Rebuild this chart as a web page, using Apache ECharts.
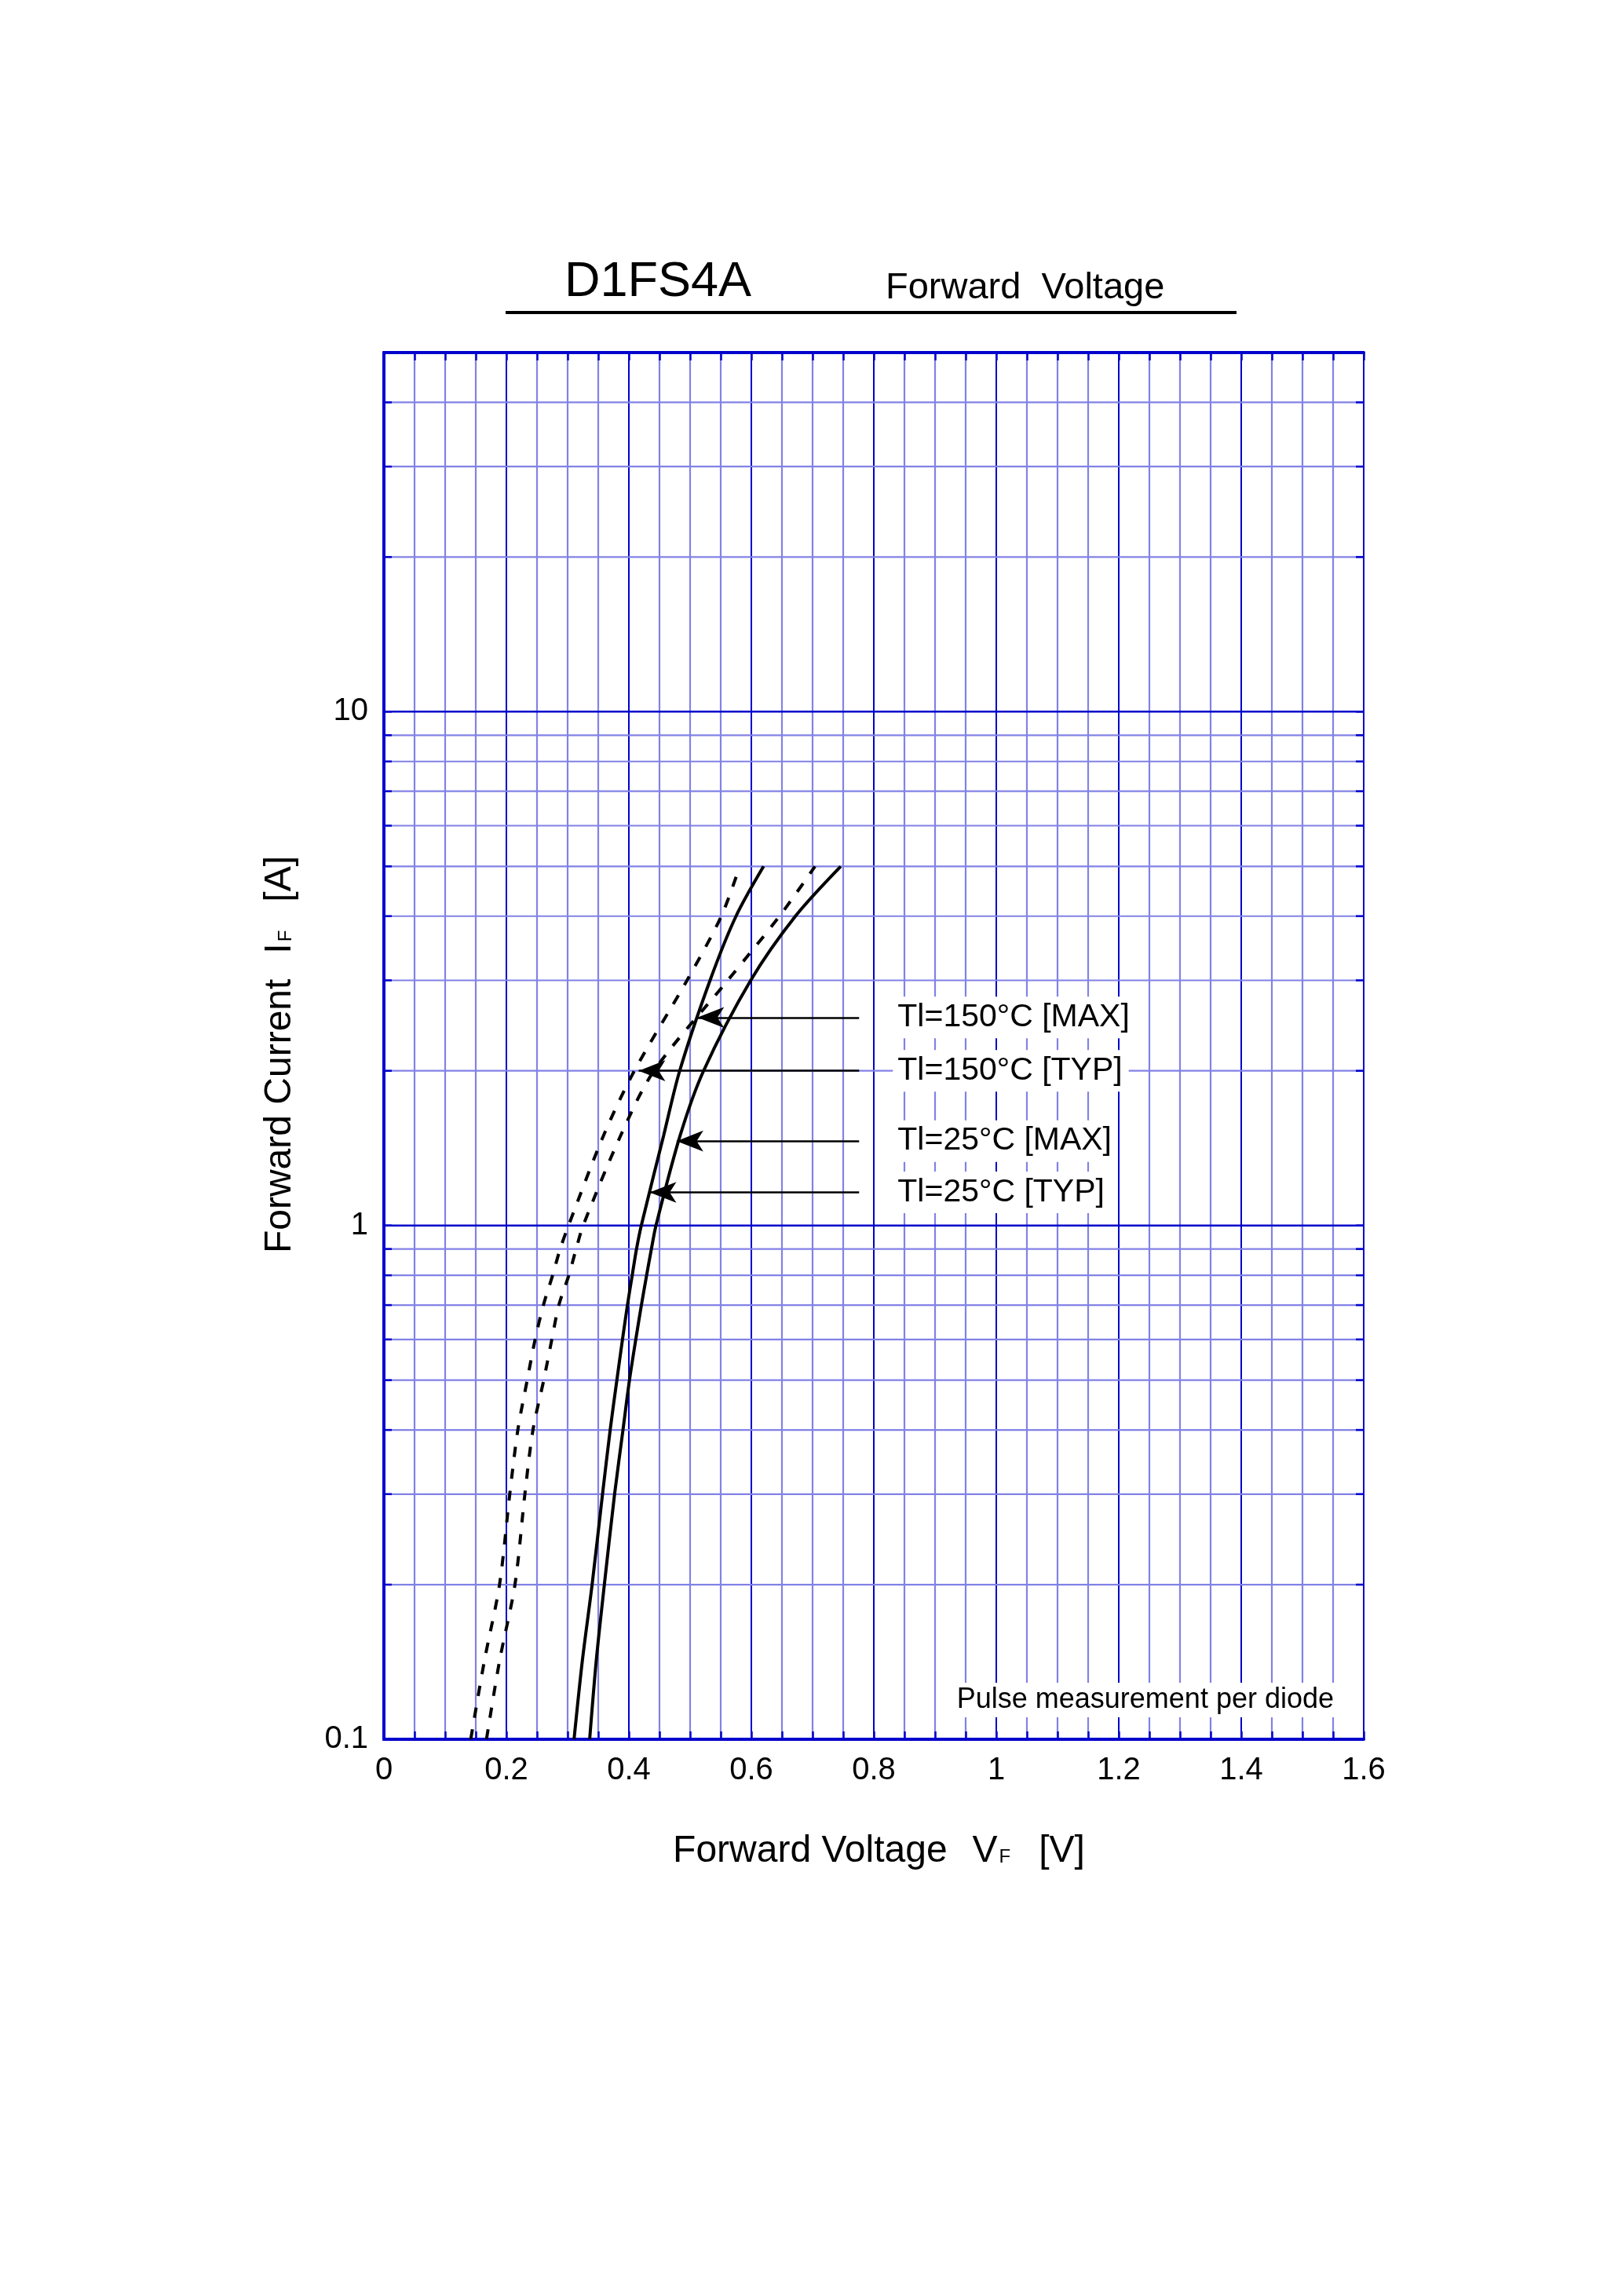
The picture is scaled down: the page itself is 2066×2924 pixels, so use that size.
<!DOCTYPE html>
<html>
<head>
<meta charset="utf-8">
<script src="https://cdn.jsdelivr.net/npm/echarts@6/dist/echarts.min.js"></script>
<style>
  html, body { margin: 0; padding: 0; background: #fff; }
  #chart { width: 2066px; height: 2924px; }
</style>
</head>
<body>
<div id="chart"></div>
<script>
// forward current levels (A) where the curves were read
const currents = [0.1, 0.142, 0.2, 0.3, 0.4, 0.5, 0.6, 0.7, 0.8, 0.9, 1, 1.5, 2, 3, 4, 5]

// forward voltage (V) for each curve at those currents
const vf25Typ = [0.3105, 0.324, 0.340, 0.357, 0.3695, 0.3804, 0.3896, 0.3977, 0.4055, 0.4125, 0.4203, 0.457, 0.483, 0.5326, 0.575, 0.620]
const vf25Max = [0.336, 0.3467, 0.360, 0.3767, 0.3904, 0.401, 0.4113, 0.4205, 0.429, 0.4368, 0.4443, 0.484, 0.522, 0.599, 0.672, 0.746]
const vf150Typ = [0.1418, 0.164, 0.1888, 0.2055, 0.2187, 0.234, 0.2469, 0.2605, 0.2755, 0.2878, 0.3015, 0.359, 0.409, 0.495, 0.551, 0.581]
const vf150Max = [0.1675, 0.1888, 0.214, 0.2302, 0.2434, 0.261, 0.2742, 0.2857, 0.302, 0.3139, 0.3254, 0.387, 0.441, 0.5615, 0.646, 0.704]

// annotation arrows: label, current level, arrow tip and tail voltage
const arrowLabels = ['Tl=150°C [MAX]', 'Tl=150°C [TYP]', 'Tl=25°C [MAX]', 'Tl=25°C [TYP]']
const arrowCurrent = [2.54, 2.0, 1.46, 1.16]
const arrowTipV = [0.512, 0.416, 0.478, 0.434]
const arrowTailV = [0.776, 0.776, 0.776, 0.776]

// axis ranges and grid lines
const xMin = 0
const xMax = 1.6
const xStep = 0.2
const yMin = 0.1
const yMax = 50
const yLabelValues = [0.1, 1, 10]
const yMinorLines = [0.2, 0.3, 0.4, 0.5, 0.6, 0.7, 0.8, 0.9, 2, 3, 4, 5, 6, 7, 8, 9, 20, 30, 40]
const yMajorLines = [1, 10]

const DARK = '#0000cc'
const LIGHT = '#8282e6'
const FONT = '"Liberation Sans", Arial, sans-serif'

const pairs = (vs) => vs.map((v, i) => [v, currents[i]])

const gridLineData = [
  ...yMinorLines.map(v => [0, v, 0]),
  ...yMajorLines.map(v => [0, v, 1])
]

function renderGridLine(params, api) {
  const cs = params.coordSys
  const y = api.coord([0, api.value(1)])[1]
  const major = api.value(2) === 1
  const tick = 10
  return {
    type: 'group',
    children: [
      { type: 'line', shape: { x1: cs.x, y1: y, x2: cs.x + cs.width, y2: y },
        style: { stroke: major ? DARK : LIGHT, lineWidth: major ? 2.5 : 2.2 } },
      { type: 'line', shape: { x1: cs.x, y1: y, x2: cs.x + tick, y2: y },
        style: { stroke: DARK, lineWidth: 2.5 } },
      { type: 'line', shape: { x1: cs.x + cs.width - tick, y1: y, x2: cs.x + cs.width, y2: y },
        style: { stroke: DARK, lineWidth: 2.5 } }
    ]
  }
}

const xAxisBase = {
  type: 'value',
  min: xMin,
  max: xMax,
  interval: xStep,
  axisLine: { show: true, lineStyle: { color: DARK, width: 4 } },
  axisTick: { show: true, inside: true, length: 10, lineStyle: { color: DARK, width: 2.5 } },
  minorTick: { show: true, splitNumber: 4, length: 10, lineStyle: { color: DARK, width: 2.5 } }
}

const nameRich = {
  a: { fontSize: 48, fontFamily: FONT, color: '#000', lineHeight: 58 },
  v: { fontSize: 48, fontFamily: FONT, color: '#000', lineHeight: 58, padding: [0, 0, 0, 32] },
  s: { fontSize: 24, fontFamily: FONT, color: '#000', lineHeight: 58, padding: [14, 0, 0, 2] },
  b: { fontSize: 48, fontFamily: FONT, color: '#000', lineHeight: 58, padding: [0, 0, 0, 36] },
  by: { fontSize: 48, fontFamily: FONT, color: '#000', lineHeight: 58, padding: [0, 22, 0, 36] },
  ax: { fontSize: 48, fontFamily: FONT, color: '#000', lineHeight: 58, padding: [0, 0, 0, 13] }
}

const isDecade = (v) => Math.abs(Math.log10(v) - Math.round(Math.log10(v))) < 1e-6

const option = {
  backgroundColor: '#fff',
  animation: false,
  grid: { left: 489, top: 449, width: 1248, height: 1766, containLabel: false },
  xAxis: [
    {
      ...xAxisBase,
      position: 'bottom',
      axisLabel: { margin: 20, color: '#000', fontSize: 40, fontFamily: FONT },
      splitLine: { show: true, lineStyle: { color: DARK, width: 2 } },
      minorSplitLine: { show: true, lineStyle: { color: LIGHT, width: 2.2 } },
      name: '{ax|Forward Voltage}{v|V}{s|F}{b|[V]}',
      nameLocation: 'middle',
      nameGap: 114,
      nameTextStyle: { rich: nameRich }
    },
    {
      ...xAxisBase,
      position: 'top',
      axisLabel: { show: false },
      splitLine: { show: false }
    }
  ],
  yAxis: [
    {
      type: 'log',
      logBase: 10,
      min: yMin,
      max: yMax,
      position: 'left',
      axisLine: { show: true, lineStyle: { color: DARK, width: 4 } },
      axisTick: { show: false },
      splitLine: { show: false },
      axisLabel: {
        margin: 20, color: '#000', fontSize: 40, fontFamily: FONT,
        formatter: (v) => (isDecade(v) && yLabelValues.some(t => Math.abs(t - v) < 1e-9 * t + 1e-12) ? String(+v.toPrecision(3)) : '')
      },
      name: '{a|Forward Current}{v|I}{s|F}{by|[A]}',
      nameLocation: 'middle',
      nameGap: 103,
      nameRotate: 90,
      nameTextStyle: { rich: nameRich }
    },
    {
      type: 'log',
      logBase: 10,
      min: yMin,
      max: yMax,
      position: 'right',
      axisLine: { show: true, lineStyle: { color: DARK, width: 4 } },
      axisTick: { show: false },
      axisLabel: { show: false },
      splitLine: { show: false }
    }
  ],
  graphic: [
    { type: 'text', x: 719, y: 360, z: 10,
      style: { text: 'D1FS4A', font: '63px ' + FONT, fill: '#000', align: 'left', verticalAlign: 'middle' } },
    { type: 'text', x: 1128, y: 367, z: 10,
      style: { text: 'Forward  Voltage', font: '47px ' + FONT, fill: '#000', align: 'left', verticalAlign: 'middle' } },
    { type: 'line', z: 10, shape: { x1: 644, y1: 398, x2: 1575, y2: 398 },
      style: { stroke: '#000', lineWidth: 4 } },
    { type: 'text', x: 1710, y: 2165, z: 10,
      style: { text: 'Pulse measurement per diode', font: '36px ' + FONT, fill: '#000',
        align: 'right', verticalAlign: 'middle', backgroundColor: '#fff', padding: [4, 11, 4, 11] } }
  ],
  series: [
    {
      name: 'gridlines',
      type: 'custom',
      renderItem: renderGridLine,
      data: gridLineData,
      silent: true,
      z: 1
    },
    {
      name: 'Tl=25°C [TYP]',
      type: 'line',
      data: pairs(vf25Typ),
      showSymbol: false,
      smooth: 0.3,
      lineStyle: { color: '#000', width: 4 },
      z: 3,
      markLine: {
        silent: true,
        symbol: ['arrow', 'none'],
        symbolSize: 30,
        lineStyle: { color: '#000', width: 2.5, type: 'solid' },
        label: {
          show: true, position: 'end', distance: 43, formatter: '{b}',
          color: '#000', fontSize: 41, fontFamily: FONT,
          backgroundColor: '#fff', padding: [6, 8, 6, 6]
        },
        data: arrowLabels.map((name, i) => [
          { name, coord: [arrowTipV[i], arrowCurrent[i]], symbolSize: [20, 34] },
          { coord: [arrowTailV[i], arrowCurrent[i]] }
        ])
      }
    },
    {
      name: 'Tl=25°C [MAX]',
      type: 'line',
      data: pairs(vf25Max),
      showSymbol: false,
      smooth: 0.3,
      lineStyle: { color: '#000', width: 4 },
      z: 3
    },
    {
      name: 'Tl=150°C [TYP]',
      type: 'line',
      data: pairs(vf150Typ),
      showSymbol: false,
      smooth: 0.3,
      lineStyle: { color: '#000', width: 4, type: [13, 15] },
      z: 3
    },
    {
      name: 'Tl=150°C [MAX]',
      type: 'line',
      data: pairs(vf150Max),
      showSymbol: false,
      smooth: 0.3,
      lineStyle: { color: '#000', width: 4, type: [13, 15] },
      z: 3
    }
  ]
}

const chart = echarts.init(document.getElementById('chart'))
chart.setOption(option)
</script>
</body>
</html>
